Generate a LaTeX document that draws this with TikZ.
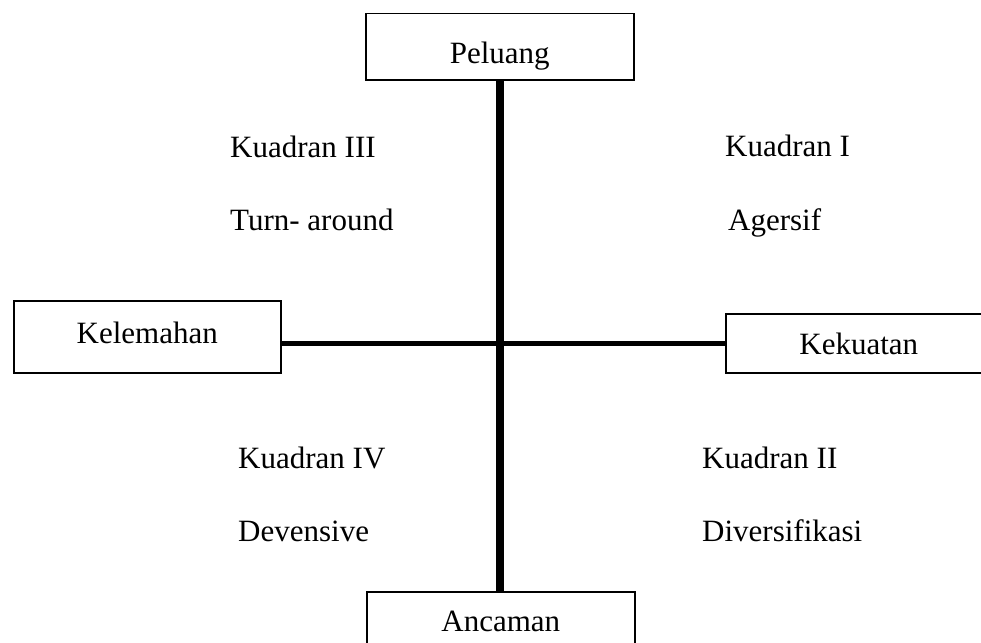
\documentclass[tikz,border=0pt]{standalone}
\usepackage{fontspec}
\setmainfont{Liberation Serif}
\begin{document}
\begin{tikzpicture}[x=1pt,y=-1pt,
  every node/.style={font=\fontsize{31}{37}\selectfont},
  box/.style={draw,line width=1.5pt,rectangle,inner sep=0pt,anchor=north west,align=center},
  lbl/.style={anchor=base west,inner sep=0pt},
  vaxis/.style={line width=8pt},
  haxis/.style={line width=5pt}]
\useasboundingbox (0,0) rectangle (981,642);
\clip (0,0) rectangle (981,642);
\node[box,minimum width=268pt,text height=50pt,text depth=16pt] (peluang) at (365,13) {Peluang};
\node[box,minimum width=267pt,text height=43pt,text depth=29pt] (kelemahan) at (13,300) {Kelemahan};
\node[box,minimum width=266pt,text height=41pt,text depth=18pt] (kekuatan) at (725,313) {Kekuatan};
\node[box,minimum width=268pt,text height=40pt,text depth=30pt] (ancaman) at (366,591) {Ancaman};
\coordinate (c) at (499,343);
\draw[vaxis] (peluang.south) -- (peluang.south |- ancaman.north);
\draw[haxis] (kelemahan.east |- c) -- (kekuatan.west |- c);
\node[lbl] (k3) at (230,157) {Kuadran III};
\node[lbl] (s3) at (230,230) {Turn- around};
\node[lbl] (k1) at (725,156) {Kuadran I};
\node[lbl] (s1) at (728,230) {Agersif};
\node[lbl] (k4) at (238,468) {Kuadran IV};
\node[lbl] (s4) at (238,541) {Devensive};
\node[lbl] (k2) at (702,468) {Kuadran II};
\node[lbl] (s2) at (702,541) {Diversifikasi};
\end{tikzpicture}
\end{document}
